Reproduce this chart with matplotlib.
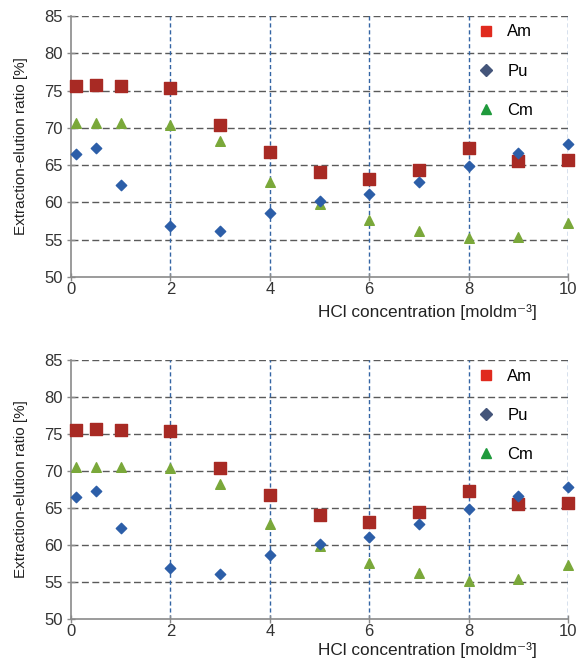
import numpy as np
import matplotlib.pyplot as plt
from matplotlib.lines import Line2D

plt.rcParams.update({
    "font.family": ["Liberation Sans", "DejaVu Sans"],
    "font.size": 12,
})

# HCl concentration [mol dm^-3]
hcl = [0.1, 0.5, 1, 2, 3, 4, 5, 6, 7, 8, 9, 10]
# extraction-elution ratio [%]
am = [75.6, 75.7, 75.6, 75.4, 70.4, 66.7, 64.1, 63.1, 64.4, 67.3, 65.6, 65.7]
pu = [66.5, 67.3, 62.3, 56.9, 56.1, 58.6, 60.2, 61.1, 62.8, 64.9, 66.6, 67.8]
cm = [70.6, 70.6, 70.6, 70.4, 68.2, 62.8, 59.8, 57.6, 56.2, 55.2, 55.4, 57.3]

yticks = [50, 55, 60, 65, 70, 75, 80, 85]
xticks = [0, 2, 4, 6, 8, 10]

fig = plt.figure(figsize=(5.78, 6.61), dpi=100)
ax_top = fig.add_axes([0.1228, 0.581, 0.86, 0.3948])
ax_bot = fig.add_axes([0.1228, 0.0635, 0.86, 0.3919])

for ax, label_y in ((ax_top, -0.134), (ax_bot, -0.118)):
    ax.set_xlim(0, 10)
    ax.set_ylim(50, 85)
    ax.set_xticks(xticks)
    ax.set_yticks(yticks)

    # gray dashed horizontal grid, blue dashed vertical grid
    for y in yticks[1:]:
        ax.axhline(y, color="#5a5a5a", lw=1.0, dashes=(5, 2.5), zorder=1)
    for x in xticks[1:]:
        ax.axvline(x, color="#3465a4", lw=1.0, dashes=(3, 2), zorder=1)

    ax.scatter(hcl, am, marker="s", s=78, color="#a82a24", zorder=3, clip_on=False)
    ax.scatter(hcl, pu, marker="D", s=28, color="#2c5ea8", zorder=4, clip_on=False)
    ax.scatter(hcl, cm, marker="^", s=48, color="#7aa83a", zorder=3, clip_on=False)

    for side in ("top", "right"):
        ax.spines[side].set_visible(False)
    for side in ("left", "bottom"):
        ax.spines[side].set_color("#8a8a8a")
        ax.spines[side].set_linewidth(1.2)
    ax.tick_params(axis="both", direction="inout", colors="#8a8a8a", labelcolor="#333333",
                   length=6, width=1.0, labelsize=12)
    ax.tick_params(axis="x", pad=0.5)
    ax.tick_params(axis="y", pad=3)

    ax.set_ylabel("Extraction-elution ratio [%]", fontsize=11, color="#222222", labelpad=11.5)
    ax.set_xlabel("HCl concentration [moldm\u207b\u00b3]", fontsize=12.4, color="#222222")
    ax.xaxis.set_label_coords(0.718, label_y)
    ax.xaxis.label.set_va("center")

    handles = [
        Line2D([], [], ls="none", marker="s", ms=7.2, color="#e02a1e"),
        Line2D([], [], ls="none", marker="D", ms=6.0, color="#44557a"),
        Line2D([], [], ls="none", marker="^", ms=7.5, color="#1f9a3c"),
    ]
    ax.legend(handles, ["Am", "Pu", "Cm"], loc="upper right", bbox_to_anchor=(0.96, 1.025),
              frameon=False, labelspacing=1.45, handletextpad=0.3, fontsize=12)

fig.savefig("out.png", dpi=100)
